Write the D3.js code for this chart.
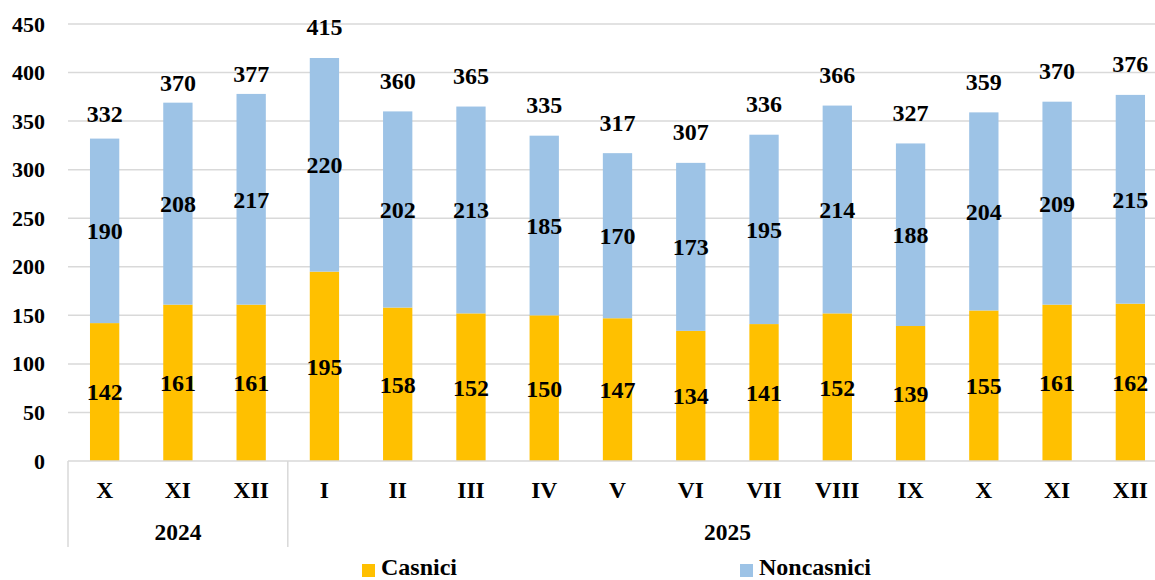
<!DOCTYPE html>
<html>
<head>
<meta charset="utf-8">
<script src="https://cdn.jsdelivr.net/npm/d3@7"></script>
<style>
  body { margin: 0; background: #fff; }
  #chart text { font-family: "Liberation Serif", "Times New Roman", Tinos, "DejaVu Serif", serif; font-weight: bold; fill: #000; }
</style>
</head>
<body>
<svg id="chart" width="1155" height="580"></svg>
<script>
// data
var months = ["X", "XI", "XII", "I", "II", "III", "IV", "V", "VI", "VII", "VIII", "IX", "X", "XI", "XII"];
var years = ["2024", "2024", "2024", "2025", "2025", "2025", "2025", "2025", "2025", "2025", "2025", "2025", "2025", "2025", "2025"];
var casnici = [142, 161, 161, 195, 158, 152, 150, 147, 134, 141, 152, 139, 155, 161, 162];
var noncasnici = [190, 208, 217, 220, 202, 213, 185, 170, 173, 195, 214, 188, 204, 209, 215];
var totals = [332, 370, 377, 415, 360, 365, 335, 317, 307, 336, 366, 327, 359, 370, 376];
var yTicks = [0, 50, 100, 150, 200, 250, 300, 350, 400, 450];

// how far each total label sits above its bar (px)
var totalLift = [25, 20, 20, 31, 31, 31, 31, 31, 31, 31, 31, 31, 31, 31, 31];

var orange = "#FFC000", blue = "#9DC3E6", grid = "#D9D9D9";
var margin = {left: 68, right: -12, top: 24, bottom: 119};
var W = 1155, H = 580;
var width = W - margin.left - margin.right,
    height = H - margin.top - margin.bottom;

var rows = months.map(function(m, i){
  return {idx: i, month: m, year: years[i], casnici: casnici[i], noncasnici: noncasnici[i], total: totals[i]};
});

var x = d3.scaleBand().domain(d3.range(months.length)).range([0, width]).paddingInner(0.6).paddingOuter(0.3);
var y = d3.scaleLinear().domain([0, 450]).range([height, 0]);

var svg = d3.select("#chart").append("g")
  .attr("transform", "translate(" + margin.left + "," + margin.top + ")");

//Gridlines
svg.append("g").selectAll("line")
  .data(yTicks.filter(function(t){ return t > 0; }))
  .enter().append("line")
    .attr("x1", 0).attr("x2", width)
    .attr("y1", function(d){ return y(d); }).attr("y2", function(d){ return y(d); })
    .style("stroke", grid).style("stroke-width", 1.5);

//Y axis labels
var yAxis = svg.append("g")
  .attr("font-family", null)
  .call(d3.axisLeft(y).tickValues(yTicks).tickSize(0).tickPadding(23));
yAxis.select(".domain").remove();
yAxis.selectAll("text").style("font-size", "22px");

//Stacked bars
var stack = d3.stack().keys(["casnici", "noncasnici"])(rows);
var colors = {casnici: orange, noncasnici: blue};

var layers = svg.selectAll(".layer")
  .data(stack).enter().append("g")
    .attr("class", "layer")
    .style("fill", function(d){ return colors[d.key]; });

layers.selectAll("rect")
  .data(function(d){ return d; })
  .enter().append("rect")
    .attr("x", function(d){ return x(d.data.idx); })
    .attr("width", x.bandwidth())
    .attr("y", function(d){ return y(d[1]); })
    .attr("height", function(d){ return y(d[0]) - y(d[1]); });

//Segment labels
layers.selectAll("text")
  .data(function(d){ return d.map(function(p){ return {p: p, key: d.key}; }); })
  .enter().append("text")
    .attr("x", function(d){ return x(d.p.data.idx) + x.bandwidth() / 2; })
    .attr("y", function(d){ return (y(d.p[0]) + y(d.p[1])) / 2; })
    .attr("dy", "0.35em")
    .attr("text-anchor", "middle")
    .style("font-size", "24px")
    .text(function(d){ return d.p.data[d.key]; });

//Total labels
svg.append("g").selectAll("text")
  .data(rows).enter().append("text")
    .attr("x", function(d){ return x(d.idx) + x.bandwidth() / 2; })
    .attr("y", function(d){ return y(d.casnici + d.noncasnici) - totalLift[d.idx]; })
    .attr("dy", "0.35em")
    .attr("text-anchor", "middle")
    .style("font-size", "24px")
    .text(function(d){ return d.total; });

//Category axis
svg.append("line")
  .attr("x1", 0).attr("x2", width)
  .attr("y1", height).attr("y2", height)
  .style("stroke", grid).style("stroke-width", 1.5);

svg.append("g").selectAll("text")
  .data(rows).enter().append("text")
    .attr("x", function(d){ return x(d.idx) + x.bandwidth() / 2; })
    .attr("y", height + 37)
    .attr("text-anchor", "middle")
    .style("font-size", "23.5px")
    .text(function(d){ return d.month; });

// year groups
var groups = d3.groups(rows, function(d){ return d.year; }).map(function(g){
  var first = g[1][0].idx, last = g[1][g[1].length - 1].idx;
  return {year: g[0], x0: first * x.step(), x1: (last + 1) * x.step()};
});

svg.append("g").selectAll("line")
  .data(groups).enter().append("line")
    .attr("x1", function(d){ return d.x0; }).attr("x2", function(d){ return d.x0; })
    .attr("y1", height).attr("y2", height + 86)
    .style("stroke", grid).style("stroke-width", 1.5);

svg.append("g").selectAll("text")
  .data(groups).enter().append("text")
    .attr("x", function(d){ return (d.x0 + d.x1) / 2; })
    .attr("y", height + 79)
    .attr("text-anchor", "middle")
    .style("font-size", "23.5px")
    .text(function(d){ return d.year; });

//Legend
var legend = d3.select("#chart").append("g");
var legendItems = [{name: "Casnici", color: orange, x: 362}, {name: "Noncasnici", color: blue, x: 740}];
legend.selectAll("rect")
  .data(legendItems).enter().append("rect")
    .attr("x", function(d){ return d.x; }).attr("y", 564)
    .attr("width", 13).attr("height", 13)
    .style("fill", function(d){ return d.color; });
legend.selectAll("text")
  .data(legendItems).enter().append("text")
    .attr("x", function(d){ return d.x + 19; }).attr("y", 575)
    .style("font-size", "24px")
    .text(function(d){ return d.name; });
</script>
</body>
</html>
